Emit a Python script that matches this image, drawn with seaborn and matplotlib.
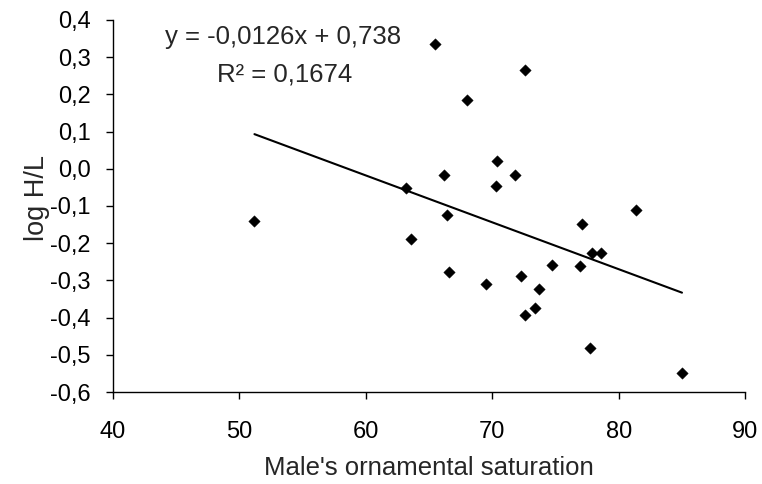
import matplotlib
matplotlib.use("Agg")
import matplotlib.pyplot as plt
import matplotlib.ticker as mticker
import numpy as np
import pandas as pd
import seaborn as sns

# Data
saturation = [51.2, 65.5, 72.6, 68.0, 70.4, 66.2, 71.8, 70.3, 63.2, 66.4,
              77.1, 81.4, 63.6, 66.6, 69.5, 72.3, 73.7, 74.7, 76.9, 77.9,
              78.6, 73.4, 72.6, 77.7, 85.0]
log_hl = [-0.140, 0.335, 0.264, 0.185, 0.020, -0.016, -0.018, -0.047, -0.052, -0.124,
          -0.149, -0.111, -0.188, -0.278, -0.310, -0.289, -0.322, -0.258, -0.262, -0.227,
          -0.227, -0.373, -0.392, -0.483, -0.549]
slope = -0.0126
intercept = 0.738
eq_text = "y = -0,0126x + 0,738"
r2_text = "R² = 0,1674"
x_ticks = [40, 50, 60, 70, 80, 90]
y_ticks = [-0.6, -0.5, -0.4, -0.3, -0.2, -0.1, 0.0, 0.1, 0.2, 0.3, 0.4]

sns.set_style("ticks")
plt.rcParams['font.family'] = ['Liberation Sans', 'DejaVu Sans']

df = pd.DataFrame({"x": saturation, "y": log_hl})
xmin, xmax = min(saturation), max(saturation)
fit = pd.DataFrame({"x": [xmin, xmax], "y": [slope * xmin + intercept, slope * xmax + intercept]})

fig = plt.figure(figsize=(7.62, 4.84), dpi=100)
ax = fig.add_axes([0.148, 0.190, 0.830, 0.769])

sns.lineplot(data=fit, x="x", y="y", ax=ax, color="black", linewidth=1.5)
sns.scatterplot(data=df, x="x", y="y", ax=ax, marker="D", s=34, color="black",
                edgecolor="black", linewidth=0.3, zorder=3)

ax.set_xlim(40, 90)
ax.set_ylim(-0.6, 0.4)
ax.set_xticks(x_ticks)
ax.set_yticks(y_ticks)
ax.yaxis.set_major_formatter(mticker.FuncFormatter(lambda v, p: f"{v:.1f}".replace(".", ",").replace("-0,0", "0,0")))
ax.tick_params(axis="both", direction="out", length=5, width=1, colors="black", labelsize=17)
ax.tick_params(axis="x", pad=16)
ax.tick_params(axis="y", pad=11)
for s in ["top", "right"]:
    ax.spines[s].set_visible(False)
for s in ["left", "bottom"]:
    ax.spines[s].set_linewidth(1)
    ax.spines[s].set_color("black")

ax.set_xlabel("Male's ornamental saturation", fontsize=18.5, labelpad=9)
ax.set_ylabel("log H/L", fontsize=19.5)
ax.yaxis.set_label_coords(-0.10, 0.522)

ax.text(0.269, 0.955, eq_text, transform=ax.transAxes, ha="center", va="center", fontsize=18.5)
ax.text(0.271, 0.852, r2_text, transform=ax.transAxes, ha="center", va="center", fontsize=18.5)

fig.savefig("out.png", dpi=100)
